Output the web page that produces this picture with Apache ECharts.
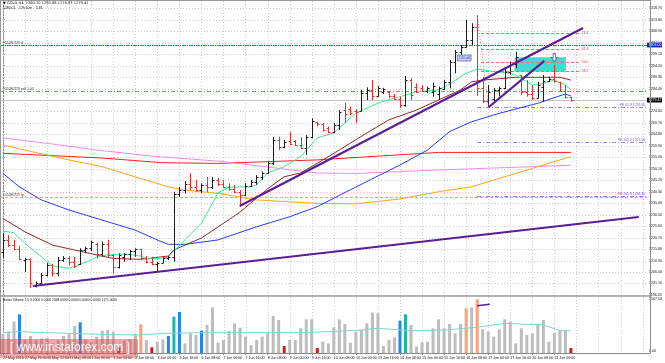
<!DOCTYPE html>
<html><head><meta charset="utf-8">
<script src="https://cdn.jsdelivr.net/npm/echarts@6/dist/echarts.min.js"></script>
<style>html,body{margin:0;padding:0;background:#fff}#c{width:665px;height:363px}</style>
</head><body><div id="c"></div>
<script>
// ---------------- DATA ----------------
const titleText = '\u25BC GOLD,H4  1280.70 1280.88 1278.83 1279.47';
const subText = '1280.01    17h 10m    5.81';
const volTitle = 'Better Volume 1.5 0.0000 0.0000 2348.0000 0.0000 0.0000 0.0000 1171.0000';

// OHLC per H4 bar [open, high, low, close]
const ohlc = [
[1214.5,1222.7,1212.0,1219.7],[1219.7,1221.8,1216.7,1217.5],[1217.5,1219.7,1215.4,1215.8],[1215.8,1217.2,1211.1,1211.6],
[1211.0,1212.0,1206.0,1211.6],[1211.6,1211.9,1199.2,1201.3],[1200.0,1201.9,1199.4,1201.3],[1201.3,1205.6,1201.0,1204.7],
[1204.7,1209.8,1204.1,1208.9],[1208.9,1209.4,1204.1,1205.6],[1205.6,1212.5,1204.1,1211.1],[1211.1,1212.8,1210.4,1212.0],
[1212.0,1212.8,1208.9,1210.3],[1210.3,1212.5,1207.6,1208.5],[1209.5,1216.1,1209.0,1215.4],[1215.4,1216.8,1214.0,1216.2],
[1216.2,1219.4,1214.9,1218.8],[1218.0,1218.6,1211.8,1213.7],[1213.7,1219.0,1212.5,1218.0],[1218.0,1219.7,1212.5,1213.3],
[1213.3,1213.6,1205.4,1208.0],[1208.0,1214.0,1207.5,1213.3],[1212.6,1214.0,1210.4,1213.7],[1213.7,1215.4,1211.1,1214.9],
[1214.9,1216.1,1212.5,1215.8],[1215.8,1216.0,1211.1,1212.0],[1212.0,1212.8,1209.7,1210.3],[1210.3,1212.5,1208.9,1209.4],
[1209.4,1210.4,1206.1,1210.0],[1210.0,1212.5,1209.8,1212.0],[1212.0,1212.8,1211.1,1212.5],[1212.5,1240.3,1210.4,1239.3],
[1239.3,1242.4,1238.1,1241.0],[1241.0,1244.9,1239.6,1243.6],[1243.6,1248.2,1241.0,1242.3],[1242.3,1245.3,1240.3,1241.0],
[1241.0,1243.9,1239.6,1243.2],[1243.2,1246.6,1240.2,1242.3],[1242.3,1246.6,1241.5,1245.3],[1245.3,1246.2,1242.7,1243.6],
[1243.6,1245.3,1241.8,1242.3],[1242.3,1243.9,1240.7,1241.5],[1241.5,1243.2,1239.6,1240.2],[1240.2,1241.0,1234.2,1238.9],
[1238.9,1243.9,1238.5,1242.7],[1242.7,1245.3,1242.3,1244.5],[1244.5,1247.4,1243.2,1246.6],[1246.6,1248.9,1245.3,1248.3],
[1248.3,1253.2,1248.0,1252.6],[1252.6,1263.8,1251.7,1262.4],[1262.4,1263.8,1258.1,1259.4],[1259.4,1262.4,1258.9,1261.5],
[1262.0,1265.9,1260.3,1260.7],[1261.8,1262.4,1259.8,1260.3],[1260.3,1263.7,1258.5,1259.0],[1259.0,1264.5,1256.0,1263.7],
[1263.7,1271.7,1263.1,1270.6],[1270.2,1270.3,1268.2,1269.3],[1269.3,1269.7,1266.0,1266.7],[1267.5,1268.1,1265.3,1265.8],
[1265.8,1269.7,1265.5,1268.8],[1268.8,1275.2,1266.7,1274.4],[1275.2,1278.2,1269.7,1273.5],[1275.6,1276.7,1273.1,1273.9],
[1275.0,1275.6,1269.6,1274.2],[1274.8,1283.8,1274.6,1282.5],[1282.5,1284.9,1279.5,1283.8],[1283.8,1288.0,1279.5,1281.2],
[1281.2,1285.5,1280.9,1284.6],[1283.0,1284.7,1282.1,1284.2],[1283.0,1283.2,1280.2,1281.2],[1281.2,1282.1,1279.5,1280.0],
[1280.0,1280.9,1276.0,1277.3],[1277.3,1289.8,1276.6,1288.0],[1288.0,1288.8,1279.5,1281.6],[1285.0,1286.6,1282.5,1283.0],
[1284.5,1285.9,1283.0,1283.4],[1283.4,1285.2,1282.4,1284.6],[1283.0,1286.9,1280.9,1285.5],[1282.0,1285.2,1279.5,1284.6],
[1284.2,1288.0,1283.8,1287.2],[1287.2,1296.6,1284.5,1295.7],[1295.7,1300.9,1290.9,1300.0],[1300.0,1303.0,1298.7,1302.1],
[1302.1,1313.7,1301.8,1305.0],[1305.0,1312.3,1303.0,1310.5],[1310.5,1315.8,1281.2,1284.6],[1284.6,1289.5,1278.1,1279.1],
[1279.1,1285.9,1276.5,1283.0],[1280.0,1284.6,1278.8,1283.8],[1283.8,1285.2,1281.0,1284.6],[1284.6,1293.2,1284.2,1291.5],
[1291.5,1295.9,1290.2,1294.8],[1294.8,1300.1,1293.1,1298.0],[1290.0,1290.2,1281.6,1283.0],[1283.0,1288.0,1280.9,1282.0],
[1282.0,1285.9,1279.5,1280.4],[1280.4,1287.3,1280.2,1286.0],[1285.0,1290.2,1278.8,1287.6],[1287.6,1289.5,1287.2,1288.4],
[1288.4,1294.5,1286.9,1287.5],[1287.0,1287.3,1283.0,1283.4],[1283.4,1285.9,1280.2,1280.9],[1280.70,1280.88,1278.83,1279.47]
];

// Moving averages: [bar index, price]
const maGreen = [[0,1223.5],[2,1222.8],[4,1218.3],[7,1212.5],[9,1208.6],[12,1207.6],[13,1208.3],[16,1211.1],[17,1212.5],[19,1213.3],[22,1213.7],[25,1212.8],[26,1211.8],[28,1211.8],[30,1212.3],[31,1214.7],[33,1219.7],[36,1226.8],[38,1235.3],[39,1239.8],[41,1242.3],[45,1242.4],[46,1243.2],[48,1248.3],[51,1251.0],[54,1255.3],[57,1263.3],[60,1265.4],[64,1273.9],[68,1278.2],[72,1280.9],[75,1283.0],[79,1283.8],[81,1286.3],[84,1290.9],[86,1292.7],[88,1292.0],[92,1290.9],[93,1290.2],[95,1287.3],[96,1285.9],[98,1286.6],[100,1288.0],[102,1285.9],[103,1283.8]];
const maBrown = [[0,1228.9],[4,1223.2],[9,1217.5],[13,1215.4],[18,1212.8],[20,1211.8],[25,1211.4],[30,1212.8],[31,1215.4],[36,1220.5],[39,1225.2],[43,1231.6],[48,1241.5],[51,1246.7],[54,1248.3],[57,1252.4],[61,1258.1],[66,1265.4],[70,1271.0],[75,1275.2],[79,1279.5],[83,1283.8],[85,1287.3],[87,1288.0],[93,1289.2],[98,1289.2],[101,1289.2],[103,1288.0]];
const maBlue = [[0,1248.2],[3,1242.4],[7,1236.8],[12,1232.5],[18,1228.2],[24,1223.9],[28,1219.7],[30,1217.8],[33,1217.8],[39,1219.7],[46,1225.3],[52,1229.6],[57,1233.9],[64,1242.3],[72,1251.7],[77,1258.1],[81,1266.0],[85,1270.2],[90,1273.8],[97,1278.1],[102,1282.1],[103,1281.2]];
const maRed = [[0,1256.7],[18,1254.7],[29,1252.7],[39,1252.4],[57,1253.9],[79,1257.1],[103,1257.1]];
const maPink = [[0,1263.3],[9,1260.7],[17,1258.1],[28,1255.3],[39,1253.4],[57,1248.3],[64,1248.1],[79,1249.6],[91,1250.6],[103,1251.6]];
const maOrange = [[0,1260.3],[4,1258.1],[12,1253.9],[18,1251.0],[24,1246.7],[30,1242.4],[33,1241.0],[39,1239.6],[46,1236.8],[57,1235.3],[64,1235.1],[72,1237.2],[79,1240.3],[85,1242.4],[91,1246.7],[97,1251.0],[103,1255.3]];

// Better Volume
const volumes = [851,955,1403,1731,582,761,582,657,687,433,582,761,881,1209,1373,612,478,731,1000,1030,955,254,552,612,836,1284,582,254,507,612,761,1627,1836,433,881,806,1000,1254,2045,463,582,985,1328,1134,731,358,582,731,910,1657,1478,313,582,582,1105,1508,1508,224,507,433,1149,1508,1299,463,955,1030,1328,1806,1776,313,582,702,1448,1731,1254,284,478,507,1105,1508,1105,1299,881,1299,2000,2045,2403,1060,955,731,1060,1508,1403,433,1105,806,881,1299,1478,507,910,1000,1000,224];
const volumeKind = ('nnnbnnnnnn'+'nnnnbnnnnn'+'nrnnnonrnn'+'btbnnnbnnn'+'nnnnnnnnnn'+'nrnnnnnrnn'+'nnnnnnnnnn'+'nnbtnnnnnn'+'nnnnononnn'+'nnnnnnnnnn'+'nnnr').split('');
const volumeMA = [[0,910],[3,955],[12,881],[18,836],[24,806],[30,881],[36,910],[42,910],[48,925],[54,910],[59,955],[65,1030],[68,1105],[74,1000],[80,1030],[86,1149],[91,1328],[95,1284],[98,1254],[101,1000],[103,1000]];
const volumeTrend = [[86,2118],[88.3,2180]];

// axes
const xLabels = ['27 May 2016','27 May 20:00','30 May 12:00','31 May 08:00','1 Jun 00:00','1 Jun 16:00','2 Jun 08:00','3 Jun 00:00','3 Jun 16:00','6 Jun 08:00','7 Jun 00:00','7 Jun 16:00','8 Jun 08:00','9 Jun 00:00','9 Jun 16:00','10 Jun 08:00','13 Jun 00:00','13 Jun 16:00','14 Jun 08:00','15 Jun 00:00','15 Jun 16:00','16 Jun 08:00','17 Jun 00:00','17 Jun 16:00','20 Jun 08:00','21 Jun 00:00'];
const labelBars = [0,4,8,12,16,20,24,28,32,36,40,44,48,52,56,60,64,68,72,76,80,84,88,92,96,100];
const gridBars = [0,4,8,12,16,20,24,28,32,36,40,44,48,52,56,60,64,68,72,76,80,84,88,92,96,100,104,108,112,116];
const priceTicks = [1196.20,1201.10,1206.00,1210.90,1215.80,1220.70,1225.60,1230.50,1235.40,1240.30,1245.20,1250.10,1255.00,1259.90,1264.80,1269.70,1274.60,1279.50,1284.40,1289.30,1294.20,1299.10,1304.00,1308.90,1313.80,1318.70];
const volTop = 2507.5;

// drawn objects
const lastPrice = 1279.47;
const orderPrices = [1303.0, 1283.35, 1238.0];
const orderNames = ['#15280729 sl', '#15280729 sell 1.00', '#15280729 tp'];
const feLevels = [1276.5, 1261.5, 1238.3];
const feNames = ['FE 61.8', 'FE 100.0', 'FE 161.8'];
const feSpan = [86, 116.8];
const fibLevels = [1308.0, 1301.3, 1295.9, 1291.9];
const fibNames = ['76.4', '61.8', '50.0', '38.2'];
const fibSpan = [86.7, 104.7];
const fibDiagonal = [[86,1315.8],[88.07,1276.5]];
const trendLow = [[5.45,1200.0],[115.3,1229.5]];
const trendUp = [[42.95,1234.2],[105.2,1310.3]];
const trendShort = [[88.07,1276.4],[98.18,1296.2]];
const boxZone = [92.8, 102.1, 1297.75, 1291.6];
const sellArrow = [100, 1297.6];
const tradeTag = [82.4, 84.9, 1298.7, 1296.2];
const tradeTagText = '1.00 sell';

// ---------------- CHART ----------------
const FONT = 'Liberation Sans, Arial, sans-serif';
const BULL = '#1c1c1c', BEAR = '#f02a2a';
const XMIN = -0.5, XMAX = 116.8;
const volColors = {n:'#bdbdbd', b:'#1e88f0', t:'#1fb5a5', o:'#ff9e78', r:'#c62020'};

function txt(x, y, text, fill, size, align, valign) {
  return {type:'text', style:{x, y, text, fill, fontSize:size, fontFamily:FONT, align, verticalAlign:valign}};
}

function vGridSeries(xi, yi) {
  return {type:'custom', xAxisIndex:xi, yAxisIndex:yi, silent:true, z:1,
    data: gridBars.map(b => [b, 0]),
    renderItem(params, api) {
      const cs = params.coordSys;
      const x = Math.round(api.coord([api.value(0), 0])[0]) + 0.5;
      return {type:'line', shape:{x1:x, y1:cs.y, x2:x, y2:cs.y + cs.height},
        style:{stroke:'#cbcbcb', lineWidth:1, lineDash:[1,2]}};
    }};
}

function hLevelSeries(prices, x0, x1, strokes, labelFn, z) {
  return {type:'custom', xAxisIndex:0, yAxisIndex:0, silent:true, z:z || 3,
    data: prices.map((p, k) => [x0, p, x1, k]),
    renderItem(params, api) {
      const a = api.coord([api.value(0), api.value(1)]);
      const b = api.coord([api.value(2), api.value(1)]);
      const y = Math.round(a[1]) + 0.5;
      const ch = strokes.map(s => ({type:'line', shape:{x1:a[0], y1:y, x2:b[0], y2:y}, style:Object.assign({lineWidth:1}, s)}));
      const lab = labelFn ? labelFn(api.value(3), a[0], b[0], y) : null;
      if (lab) ch.push(lab);
      return {type:'group', children:ch};
    }};
}

function trendSeries(pts, color, width, dash) {
  return {type:'line', xAxisIndex:0, yAxisIndex:0, data:pts, symbol:'none', silent:true, z:6,
    lineStyle:{color, width, type: dash || 'solid'}, clip:false};
}
function maSeries(pts, color) {
  return {type:'line', xAxisIndex:0, yAxisIndex:0, data:pts, symbol:'none', silent:true, z:4,
    lineStyle:{color, width:1}};
}

const series = [
  vGridSeries(0, 0),
  vGridSeries(1, 1),
  {type:'custom', xAxisIndex:0, yAxisIndex:0, silent:true, z:1,
    data: priceTicks.map(p => [0, p]),
    renderItem(params, api) {
      const cs = params.coordSys;
      const y = Math.round(api.coord([0, api.value(1)])[1]) + 0.5;
      return {type:'line', shape:{x1:cs.x, y1:y, x2:cs.x + cs.width, y2:y},
        style:{stroke:'#cbcbcb', lineWidth:1, lineDash:[1,2]}};
    }},
  {type:'custom', xAxisIndex:0, yAxisIndex:0, silent:true, z:2,
    data:[boxZone],
    renderItem(params, api) {
      const a = api.coord([api.value(0), api.value(2)]);
      const b = api.coord([api.value(1), api.value(3)]);
      return {type:'rect', shape:{x:a[0], y:a[1], width:b[0]-a[0], height:b[1]-a[1]}, style:{fill:'#3edcd0'}};
    }},
  hLevelSeries([lastPrice], XMIN, XMAX, [{stroke:'#c4c4c4'}], null, 2),
  hLevelSeries([orderPrices[0]], XMIN, XMAX, [{stroke:'#ee3b3b', lineDash:[4,3]}, {stroke:'#3838e0', lineDash:[1,6], lineDashOffset:-5}],
    (k, x0, x1, y) => txt(x0 + 3, y - 0.6, orderNames[0], '#333', 3.4, 'left', 'bottom')),
  hLevelSeries([orderPrices[1]], XMIN, XMAX, [{stroke:'#62a862', lineDash:[4,2,1,2]}],
    (k, x0, x1, y) => txt(x0 + 3, y - 0.6, orderNames[1], '#333', 3.4, 'left', 'bottom')),
  hLevelSeries([orderPrices[2]], XMIN, XMAX, [{stroke:'#f2a27e', lineDash:[3,2]}],
    (k, x0, x1, y) => txt(x0 + 3, y - 0.6, orderNames[2], '#333', 3.4, 'left', 'bottom')),
  hLevelSeries(feLevels, feSpan[0], feSpan[1], [{stroke:'#9b7ed6', lineDash:[4,2,1,2]}],
    (k, x0, x1, y) => txt(x1 - 2, y - 0.6, feNames[k] + ' ' + feLevels[k].toFixed(2), '#7b55c8', 3.4, 'right', 'bottom')),
  hLevelSeries(fibLevels, fibSpan[0], fibSpan[1], [{stroke:'#ff6a6a', lineDash:[3,2]}],
    (k, x0, x1, y) => txt(x1 + 1.5, y, fibNames[k], '#e04040', 3.4, 'left', 'middle')),
  maSeries(maRed, '#ff2222'),
  maSeries(maPink, '#f08cf0'),
  maSeries(maOrange, '#ffa41c'),
  maSeries(maBlue, '#2a3cf5'),
  maSeries(maBrown, '#8e2a2a'),
  maSeries(maGreen, '#3cec8c'),
  {type:'custom', xAxisIndex:0, yAxisIndex:0, silent:true, z:5,
    data: ohlc.map((r, i) => [i, r[0], r[1], r[2], r[3]]),
    encode:{x:0, y:[1,2,3,4]},
    renderItem(params, api) {
      const i = api.value(0), o = api.value(1), h = api.value(2), l = api.value(3), c = api.value(4);
      const ph = api.coord([i, h]), pl = api.coord([i, l]), po = api.coord([i, o]), pc = api.coord([i, c]);
      const x = Math.round(ph[0]) + 0.5;
      const st = {stroke: c >= o ? BULL : BEAR, lineWidth:1};
      const yo = Math.round(po[1]) + 0.5, yc = Math.round(pc[1]) + 0.5;
      return {type:'group', children:[
        {type:'line', shape:{x1:x, y1:ph[1], x2:x, y2:pl[1]}, style:st},
        {type:'line', shape:{x1:x - 2, y1:yo, x2:x, y2:yo}, style:st},
        {type:'line', shape:{x1:x, y1:yc, x2:x + 2, y2:yc}, style:st}
      ]};
    }},
  trendSeries(fibDiagonal, '#ff5a5a', 1, [1,2]),
  trendSeries(trendLow, '#5a1f95', 2.2),
  trendSeries(trendUp, '#5a1f95', 2.2),
  trendSeries(trendShort, '#5a1f95', 2.2),
  {type:'custom', xAxisIndex:0, yAxisIndex:0, silent:true, z:7,
    data:[tradeTag],
    renderItem(params, api) {
      const a = api.coord([api.value(0), api.value(2)]);
      const b = api.coord([api.value(1), api.value(3)]);
      return {type:'group', children:[
        {type:'rect', shape:{x:a[0], y:a[1], width:b[0]-a[0], height:b[1]-a[1]}, style:{fill:'#c9cfee', stroke:'#5a68c8', lineWidth:0.8}},
        txt((a[0]+b[0])/2, (a[1]+b[1])/2, tradeTagText, '#2a3aa8', 3, 'center', 'middle')
      ]};
    }},
  {type:'scatter', xAxisIndex:0, yAxisIndex:0, silent:true, z:7, data:[sellArrow],
    symbol:'path://M3,0 L7,0 L7,5 L10,5 L5,10 L0,5 L3,5 Z', symbolSize:[6,8],
    itemStyle:{color:'#ffffff', borderColor:'#2a55d8', borderWidth:1}},
  {type:'custom', xAxisIndex:0, yAxisIndex:0, silent:true, z:9,
    data:[[XMAX, lastPrice, 0], [XMAX, orderPrices[0], 1]],
    renderItem(params, api) {
      const cs = params.coordSys;
      const y = api.coord([XMAX, api.value(1)])[1];
      const bg = api.value(2) === 0 ? '#000' : '#1a1ad0';
      return {type:'group', children:[
        {type:'rect', shape:{x:cs.x + cs.width, y:y - 2.4, width:15, height:4.8}, style:{fill:bg}},
        txt(cs.x + cs.width + 1.5, y, api.value(1).toFixed(2), '#fff', 3.6, 'left', 'middle')
      ]};
    }},
  {type:'bar', xAxisIndex:1, yAxisIndex:1, silent:true, barWidth:3, z:3,
    data: volumes.map((v, i) => ({value:[i, v], itemStyle:{color: volColors[volumeKind[i]]}}))},
  {type:'line', xAxisIndex:1, yAxisIndex:1, data:volumeMA, symbol:'none', silent:true, z:4,
    lineStyle:{color:'#7fd6cd', width:1}},
  {type:'line', xAxisIndex:1, yAxisIndex:1, data:volumeTrend, symbol:'none', silent:true, z:5,
    lineStyle:{color:'#5a1f95', width:1.6}}
];

const axisLab = {fontSize:3.6, color:'#111', fontFamily:FONT};
const option = {
  animation:false,
  backgroundColor:'#ffffff',
  grid:[
    {left:0, right:15, top:1, height:294.5},
    {left:0, right:15, top:297, height:56}
  ],
  xAxis:[
    {type:'value', gridIndex:0, min:XMIN, max:XMAX, show:false},
    {type:'value', gridIndex:1, min:XMIN, max:XMAX,
      axisLine:{show:true, lineStyle:{color:'#8a8a8a'}},
      axisTick:{show:true, customValues:labelBars, length:2, lineStyle:{color:'#8a8a8a'}},
      splitLine:{show:false},
      axisLabel:Object.assign({customValues:labelBars, formatter:v => xLabels[labelBars.indexOf(v)] || '', align:'left', margin:3}, axisLab)}
  ],
  yAxis:[
    {type:'value', gridIndex:0, min:1195.95, max:1321.81, position:'right',
      axisLine:{show:true, lineStyle:{color:'#8a8a8a'}},
      axisTick:{show:true, customValues:priceTicks, length:2, lineStyle:{color:'#8a8a8a'}},
      splitLine:{show:false},
      axisLabel:Object.assign({customValues:priceTicks, formatter:v => v.toFixed(2), margin:2}, axisLab)},
    {type:'value', gridIndex:1, min:0, max:volTop, position:'right',
      axisLine:{show:true, lineStyle:{color:'#8a8a8a'}},
      axisTick:{show:false}, splitLine:{show:false},
      axisLabel:Object.assign({customValues:[volTop], formatter:v => v.toFixed(2), margin:2, verticalAlign:'top'}, axisLab)},
    {type:'value', gridIndex:1, min:0, max:volTop, position:'right',
      axisLine:{show:false}, axisTick:{show:false}, splitLine:{show:false},
      axisLabel:Object.assign({customValues:[0], formatter:v => v.toFixed(2), margin:2, verticalAlign:'bottom'}, axisLab)}
  ],
  graphic:[
    {type:'line', shape:{x1:0, y1:0.5, x2:650, y2:0.5}, style:{stroke:'#999', lineWidth:1}, z:20},
    {type:'line', shape:{x1:0.5, y1:0, x2:0.5, y2:353.5}, style:{stroke:'#999', lineWidth:1}, z:20},
    {type:'line', shape:{x1:650.5, y1:0, x2:650.5, y2:353.5}, style:{stroke:'#8a8a8a', lineWidth:1}, z:20},
    {type:'line', shape:{x1:0, y1:296, x2:650, y2:296}, style:{stroke:'#9a9a9a', lineWidth:1.6}, z:20},
    {type:'line', shape:{x1:0, y1:353.5, x2:650, y2:353.5}, style:{stroke:'#8a8a8a', lineWidth:1}, z:20},
    {type:'text', left:3, top:1, z:20, style:{text:titleText, fontSize:3.6, fontFamily:'DejaVu Sans, ' + FONT, fill:'#111'}},
    {type:'text', left:3, top:6.5, z:20, style:{text:subText, fontSize:3.4, fontFamily:FONT, fill:'#111'}},
    {type:'text', left:3, top:298.2, z:20, style:{text:volTitle, fontSize:3.3, fontFamily:FONT, fill:'#111'}},
    {type:'rect', left:0, top:339, z:30, shape:{width:138, height:19}, style:{fill:'rgba(222,70,70,0.48)'}},
    {type:'text', left:10, top:341.5, z:31, style:{text:'[ www.instaforex.com ]', fontSize:12, fontFamily:FONT, fill:'rgba(255,255,255,0.92)'}}
  ],
  series
};
const chart = echarts.init(document.getElementById('c'), null, {renderer:'canvas', width:665, height:363});
chart.setOption(option);
</script>
</body></html>
